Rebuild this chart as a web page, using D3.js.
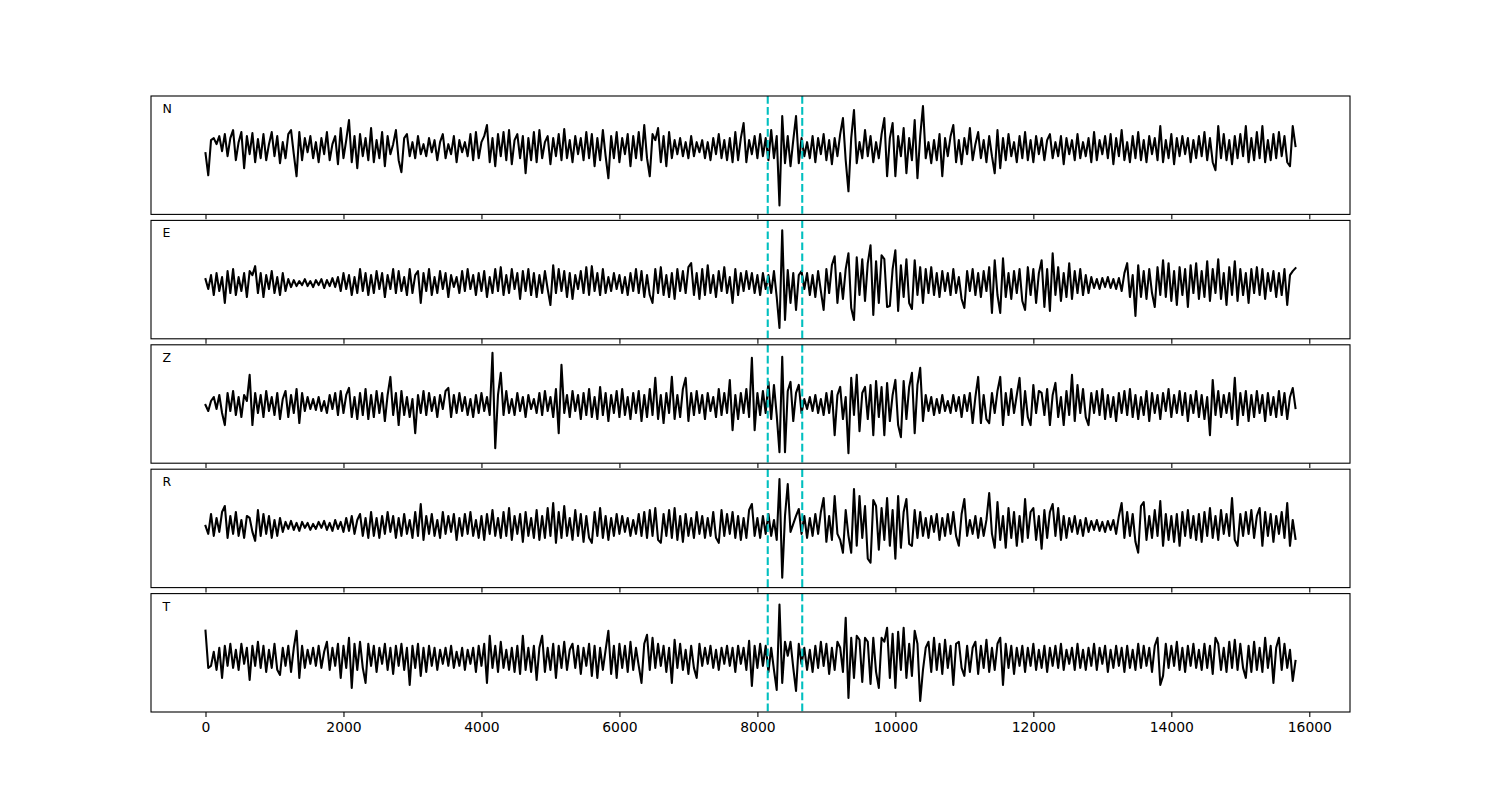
<!DOCTYPE html>
<html>
<head>
<meta charset="utf-8">
<script src="https://cdn.jsdelivr.net/npm/d3@7"></script>
<style>
  html, body { margin: 0; padding: 0; background: #fff; }
  svg { display: block; font-family: "DejaVu Sans", sans-serif; }
</style>
</head>
<body>
<div id="chart"></div>
<script>
// ---------------- data ----------------
const channelLabels = ["N", "E", "Z", "R", "T"];
const sampleStep = 40;            // samples between stored points
const pickTimes = [8150, 8650];   // dashed marker positions (samples)
const xTicks = [0, 2000, 4000, 6000, 8000, 10000, 12000, 14000, 16000];

const traceN = [
  -5, -27, 8, 10, 4, 12, -3, 14, -8, 10, 18, -12, 6, 16, -20, 12, -6, 15, -14, 9,
  -10, 14, -12, 4, 16, -8, 12, -15, 6, -10, 14, 18, -6, -28, 16, -12, 10, -4, 12, -10,
  6, -14, 10, -6, 16, -12, 4, 12, -16, 20, -10, 8, 28, -14, 12, -20, 14, -8, 10, -12,
  20, -14, 8, -10, 16, -18, 12, -6, 4, 18, -12, -24, 10, 14, -8, 6, -10, 12, -6, 4,
  -8, 10, -4, 8, -12, 6, 14, -10, 4, -6, 12, -14, 8, -4, 6, -8, 14, -12, 16, -10,
  6, 12, 23, -14, 10, -18, 14, -8, 16, -12, 18, -16, 8, 14, -10, 12, -25, 10, -12, 16,
  -14, 18, -10, 6, 12, -16, 10, -8, 14, -12, 19, -10, 8, -14, 12, -6, 10, -12, 16, -10,
  14, -18, 10, -12, 18, -8, -30, 12, -10, 16, -14, 10, -6, 14, -18, 12, -10, 16, -12, 23,
  -10, -28, 14, 8, 20, -14, 12, -18, 16, -10, 8, -6, 10, -8, 6, -10, 12, -8, 6, -4,
  8, -10, 6, -12, 10, -6, 14, -10, 8, -12, 10, -14, 16, -12, 10, 25, -14, 8, -6, 12,
  -10, 14, -8, 10, -12, 18, -10, 12, -57, 32, -15, 12, -18, 8, 32, -15, 10, -8, 6, -10,
  12, -14, 10, -6, 14, -12, 8, -16, 10, -8, 14, 30, -12, -43, 10, 38, -15, 6, -10, 18,
  -8, 12, -14, 6, -10, 14, 30, -28, 10, 25, -28, 12, -8, 20, -25, 10, -12, 28, -30, 12,
  42, -10, 6, -15, 8, -12, 14, -28, 10, -8, 12, 23, -14, 8, -16, 10, -6, 20, -12, 4,
  16, -10, 8, -14, 12, -8, -25, 18, -20, 10, -12, 14, -8, 6, -14, 12, -10, 16, -12, 8,
  -14, 12, -6, 10, -12, 8, 14, -10, 6, -8, 12, -16, 10, -6, 8, -12, 14, -10, 6, -8,
  10, -14, 16, -12, 8, -6, 12, -10, 14, -16, 10, -8, 18, -12, 6, -14, 12, -10, 16, -12,
  8, -14, 12, -6, 10, -12, 22, -14, 8, -10, 14, -16, 10, -8, 12, -6, 10, -14, 8, -10,
  12, -8, 16, -12, 10, -14, -22, 22, -10, 14, -12, 8, -16, 12, -10, 14, -8, 22, -14, 10,
  -12, 16, -10, 22, -14, 8, -12, 14, -10, 16, -8, 12, -14, -18, 22, 2
];

const traceE = [
  4, -6, 8, -12, 10, -8, 6, -20, 12, -10, 14, -12, 6, -8, 10, -14, 12, 8, 17, -10,
  10, -14, 8, -6, 12, -10, 6, -12, 10, -8, 4, -4, 3, -3, 2, -2, 4, -3, 2, -4,
  3, -2, 4, -5, 3, -3, 5, -4, 6, -8, 10, -6, 8, -12, 6, -10, 14, -8, 10, -12,
  8, -10, 12, -6, 10, -14, 8, -6, 14, -10, 12, -8, 6, -12, 14, -10, 8, 12, -20, 10,
  -8, 14, -12, 6, -10, 12, -6, 10, -14, 8, -4, 6, -10, 12, -8, 14, -6, 8, -12, 10,
  -8, 12, -14, 6, -10, 14, -8, 16, -12, 8, -10, 14, -6, 10, -16, 12, -8, 14, -12, 10,
  -14, 8, -10, 12, -6, -22, 18, -10, 14, -8, 12, -14, 10, -16, 8, -6, 12, -10, 16, -12,
  17, -8, 10, -12, 14, -10, 6, -8, 10, -6, 8, -10, 6, -12, 10, -8, 14, -10, 12, -14,
  8, -12, -20, 14, -10, 16, -12, 8, -14, 10, -16, 14, -8, 12, -10, 16, 20, -12, 10, -16,
  14, -12, 18, -10, 8, -14, 12, -8, 16, -10, 6, -20, 14, -12, 10, -8, 12, -6, 10, -10,
  8, -12, 10, -6, 8, -10, 12, -14, -45, 53, -37, 13, -20, 10, -27, 8, 12, -6, 10, -12,
  8, -14, 12, -8, -27, 14, -10, 18, 27, -20, 10, -16, 14, 30, -25, -37, 26, -12, 24, -18,
  20, 38, -32, 22, -20, 28, 24, -24, -23, 14, 33, -28, 18, -14, 24, -20, -26, 23, -12, 16,
  -20, 14, -10, 16, -12, 10, -14, 12, -8, 10, -12, 14, -10, 6, -16, -25, 12, -8, 14, -12,
  10, -14, 12, -8, 16, -30, 23, -12, -30, 25, -14, 10, -16, 12, -10, 14, -18, -27, 16, -12,
  14, -20, 10, 23, -24, 14, -28, 30, -12, 16, -18, 10, -14, 20, -16, 12, -10, 14, -12, 8,
  -10, 6, -5, 4, -6, 5, -4, 6, -5, 4, -6, 5, -8, 10, 20, -14, 8, -33, 18, -14,
  12, -16, 14, -10, -24, 16, -12, 23, -14, 20, -18, 12, -22, 16, -12, 14, -24, 18, -10, 20,
  -16, 12, -14, 22, -18, 14, -10, 24, -16, 10, -22, 16, -12, 22, -18, 14, -12, 10, -20, 14,
  -10, 16, -12, 14, -16, 10, -8, 12, -14, 10, -12, 14, -22, 8, 12, 15
];

const traceZ = [
  0, -6, 4, 8, -4, 10, -8, -20, 12, -6, 14, -10, 8, -12, 10, 4, 30, -20, 12, -8,
  10, -12, 14, -6, 8, -10, 12, -14, 6, 14, -12, 10, -8, 16, -18, 12, -6, 8, -4, 6,
  -5, 8, -6, 4, -8, 10, -4, 12, -10, 14, -8, 10, 17, -12, 8, -14, 12, -10, 16, -14,
  10, -12, 14, -8, 12, -16, 10, 28, -10, 12, -20, 14, -10, 8, -12, 6, -28, 10, -8, 14,
  -10, 12, -6, 8, -12, 10, -4, 14, 17, -12, 10, -8, 12, -6, 8, -10, 6, -12, 10, -8,
  12, -6, 8, -10, 52, -43, 10, 32, -10, 14, -8, 6, -10, 12, -6, 8, -12, 10, -4, 6,
  -8, 12, -10, 14, -6, 8, -12, 16, -28, 40, -8, 10, -12, 14, -6, 10, -14, 12, -10, 16,
  -12, 8, -14, 18, -10, 12, -16, 10, -8, 14, -12, 16, -10, 8, -14, 12, -8, 14, -16, 10,
  -12, 16, -10, 27, -14, 10, -18, 12, -8, 28, -14, 10, -12, 16, 27, -16, 12, -10, 14, -8,
  10, -14, 12, -6, 8, -12, 16, -10, 12, -8, 25, -25, 10, -14, 12, -8, 16, -12, 47, -25,
  12, -10, 14, -8, 23, -14, 20, -10, -47, 48, -47, 14, 23, -16, 12, 20, -8, 6, -4, 8,
  -6, 10, -8, 6, -10, 12, -8, 14, -30, 10, 18, -14, 8, -48, 27, -10, 30, -26, 12, 18,
  -14, 20, -30, 24, -12, 18, -30, 22, -16, 10, 25, -20, -32, 24, -14, 18, 32, -28, 20, 37,
  -16, 10, -6, 8, -10, 6, -8, 10, -6, 4, -8, 10, -6, 8, -12, 10, -6, 12, -18, 8,
  28, -18, 10, -14, -18, 12, -8, 14, 28, -20, 12, -10, 16, -8, 10, 27, -20, 14, -12, -20,
  20, -8, 14, 12, -10, 16, -20, 10, 22, -12, 8, -20, 14, -10, 30, -16, 20, -8, 16, -12,
  -20, 12, -8, 14, -10, 16, -14, 10, -12, 8, -16, 12, -8, 14, -10, 16, -12, 10, -14, 8,
  -10, 14, -16, 12, -8, 10, -14, 12, -6, 16, -12, 10, -8, 14, -10, 12, -16, 10, -8, 14,
  -12, 10, -14, 8, -30, 25, -10, 14, -12, 10, -8, 12, -14, 27, -20, 12, -10, 14, -16, 10,
  -12, 14, -8, 10, -16, 12, -10, 8, -12, 14, -10, 12, -14, 8, 17, -3
];

const traceR = [
  0, -8, 12, -10, 8, -6, 14, 20, -12, 10, -8, 14, -10, 6, -12, 10, 8, -6, -15, 16,
  -10, 12, -8, 10, -12, 6, -10, 8, -6, 4, -3, 5, -4, 3, -5, 4, -2, 3, -4, 2,
  -3, 4, -2, 5, -4, 3, -5, 6, -3, 4, -6, 8, -5, 10, -8, 6, 12, -10, 8, -12,
  14, -10, 8, -12, 10, -8, 14, -6, 10, -12, 8, -10, 12, -8, 6, -12, 14, -10, 22, -14,
  10, -8, 12, -10, 6, -12, 14, -8, 10, -6, 12, -14, 8, -10, 12, -8, 14, -10, 6, -12,
  10, -14, 12, -8, 16, -10, 8, -12, 14, -10, 18, -14, 10, -8, 12, -16, 14, -10, 8, -12,
  16, -14, 10, -12, 18, -10, 23, -17, 14, -12, 20, -10, 8, -14, 16, -10, 12, -16, 10, -12,
  -17, 14, -10, 18, -12, 10, -14, 8, -10, 12, -8, 10, -6, 8, -10, 6, -8, 12, -10, 14,
  -12, 16, -10, 18, -14, -17, 12, -10, 16, -12, 18, -14, 10, -16, 12, -10, 8, -12, 14, -8,
  10, -12, 8, -10, 14, -12, -17, 16, -10, 12, -8, 14, -12, 10, -14, 8, -12, 16, 22, -10,
  8, -12, 10, -8, 12, -10, 6, -14, 47, -52, 10, 42, -6, 2, 10, 17, -8, 10, -12, 8,
  -10, 12, -8, 14, 28, -16, 10, -14, 30, -8, -14, -27, 16, -10, -27, 37, -20, 30, -12, 20,
  -33, -37, 26, 20, -24, 18, -14, 28, -20, 16, -33, 30, -22, 14, 27, -18, -20, 16, -12, 14,
  -10, 8, -12, 10, -6, 12, -14, 8, -10, 12, -8, 14, -10, -20, 12, 27, -10, 6, -8, 10,
  -12, 8, -10, 6, 33, -8, -22, 24, -14, 10, -22, 18, -12, 14, -20, 10, -16, 27, -12, 14,
  18, -14, 10, -23, 16, -12, 14, 22, -10, 18, -14, 10, -12, 8, -6, 10, -8, 6, -10, 8,
  -6, 5, -4, 6, -5, 4, -6, 5, -4, 6, -8, 10, 23, -12, 14, -10, 12, -16, -27, 20,
  24, -14, 10, -12, 16, -10, 25, -20, 12, -14, 10, -16, 12, -20, 14, -10, 16, -12, 10, -14,
  12, -16, 14, -10, 18, -12, 10, -14, 16, -8, 12, -10, 28, -14, -20, 12, -10, 14, -8, 16,
  -12, 10, 18, -20, 14, -10, 12, -16, 10, -8, 14, -12, 23, -20, 6, -13
];

const traceT = [
  27, -10, -8, 6, -12, 10, -20, 12, -8, 14, -10, 8, -12, 14, -6, 10, -22, 12, -8, 16,
  -10, 12, -14, 8, -10, 14, -12, -17, 10, -8, 12, -14, 10, 27, -20, 12, -10, 8, -6, 10,
  -8, 12, -10, 6, 16, -12, 10, -8, 14, -20, 12, -10, 20, -30, 14, -12, 16, -10, -25, 14,
  -8, 12, -14, 10, -6, 14, -12, 10, -16, 12, -8, 14, -12, 10, -27, 12, -10, 14, -18, 10,
  -14, 12, -8, 10, -12, 8, -6, 10, -8, 12, -10, 6, -8, 10, -12, 8, -6, 10, -14, 12,
  -8, 14, -25, 22, -10, 12, -14, 16, -10, 8, -12, 10, -14, 12, -16, 22, -12, 10, -14, 12,
  -22, 10, 22, -14, 10, -12, 14, -20, 12, -10, 16, -12, 8, 14, -10, 12, -16, 10, -8, 14,
  -18, 12, -20, 10, -12, 8, 27, -16, 12, -20, 14, -10, 12, -14, 16, -12, 10, -8, -25, 14,
  23, -12, 20, -10, 14, -8, 12, -14, 10, -25, 18, -10, 14, -12, 8, -16, 12, -10, -20, 14,
  -8, 10, -6, 12, -10, 8, -12, 10, -6, 12, -8, 10, -14, 12, -6, 10, -12, 17, -28, 12,
  -10, 14, -8, 12, -14, 10, -12, -32, 53, -25, 16, 2, 16, -10, -33, 14, -6, 10, -12, 8,
  -14, 12, -10, 16, -8, 14, -16, 10, -12, 16, 10, -14, 40, -40, 20, -20, 22, 18, -24, 20,
  16, -26, 20, -14, -30, 20, 16, 30, -20, 24, -30, 26, -12, 30, -20, 14, -18, 27, 14, -43,
  -12, 10, 16, -14, 20, -12, 14, -16, 18, -10, 12, -27, 14, 16, -10, -18, 12, -14, 10, 16,
  -16, 12, -10, 18, -14, 10, -12, 14, 20, -27, 14, -10, 12, -16, 10, -8, 12, -14, 10, -8,
  14, -12, 8, -10, 12, -14, 10, -8, 12, -10, 14, -12, 8, -6, 10, -12, 14, -10, 8, -12,
  10, -8, 14, -12, 10, -6, 12, -14, 8, -10, 12, -8, 10, -14, 12, -10, 8, -12, 14, -10,
  12, -8, 10, -14, 12, 20, -27, -18, 14, -10, 12, -8, 16, -12, 10, -14, 12, -8, 14, -10,
  8, -12, 14, -10, 12, -16, 20, 14, -12, 10, -14, 16, -10, 18, -12, 14, -10, -20, 12, -14,
  16, -12, 10, -14, 20, -10, 12, -25, 10, 20, -12, 14, -10, 8, -23, -3
];

const traces = [traceN, traceE, traceZ, traceR, traceT];
// per-panel y limits (amplitude units)
const yLimits = [[-66, 52], [-56, 63], [-58, 60], [-62, 57], [-54, 64]];
const xLimits = [-790, 16590];

// ---------------- layout ----------------
const W = 1500, H = 800;
const plotLeft = 151, plotRight = 1350, plotTop = 96, panelH = 118.4, panelGap = 6;

const svg = d3.select("#chart").append("svg")
  .attr("width", W).attr("height", H);
svg.append("rect").attr("width", W).attr("height", H).attr("fill", "#fff");

const x = d3.scaleLinear().domain(xLimits).range([plotLeft, plotRight]);

traces.forEach((tr, k) => {
  const y0 = plotTop + k * (panelH + panelGap);
  const y = d3.scaleLinear().domain(yLimits[k]).range([y0 + panelH, y0]);
  const g = svg.append("g");

  const line = d3.line()
    .x((d, i) => x(i * sampleStep))
    .y(d => y(d));

  g.append("path")
    .datum(tr)
    .attr("d", line)
    .attr("fill", "none")
    .attr("stroke", "#000")
    .attr("stroke-width", 2.08)
    .attr("stroke-linejoin", "round")
    .attr("stroke-linecap", "square");

  pickTimes.forEach(t => {
    g.append("line")
      .attr("x1", x(t)).attr("x2", x(t))
      .attr("y1", y0).attr("y2", y0 + panelH)
      .attr("stroke", "#00bfbf")
      .attr("stroke-width", 2.08)
      .attr("stroke-dasharray", "7.7,3.3");
  });

  // frame
  g.append("rect")
    .attr("x", plotLeft).attr("y", y0)
    .attr("width", plotRight - plotLeft).attr("height", panelH)
    .attr("fill", "none").attr("stroke", "#000").attr("stroke-width", 1.1);

  // x axis ticks
  const axis = d3.axisBottom(x)
    .tickValues(xTicks)
    .tickSize(4.9)
    .tickPadding(4.9)
    .tickFormat(k === traces.length - 1 ? d3.format("d") : () => "");
  const ag = g.append("g")
    .attr("transform", `translate(0,${y0 + panelH})`)
    .call(axis);
  ag.select(".domain").remove();
  ag.selectAll(".tick line").attr("stroke", "#000").attr("stroke-width", 1.1);
  ag.selectAll(".tick text")
    .attr("fill", "#000")
    .style("font-family", "'DejaVu Sans', sans-serif")
    .style("font-size", "13.9px");

  // channel label
  g.append("text")
    .attr("x", plotLeft + 11.5)
    .attr("y", y0 + 17)
    .attr("fill", "#000")
    .style("font-family", "'DejaVu Sans', sans-serif")
    .style("font-size", "12.5px")
    .text(channelLabels[k]);
});
</script>
</body>
</html>
